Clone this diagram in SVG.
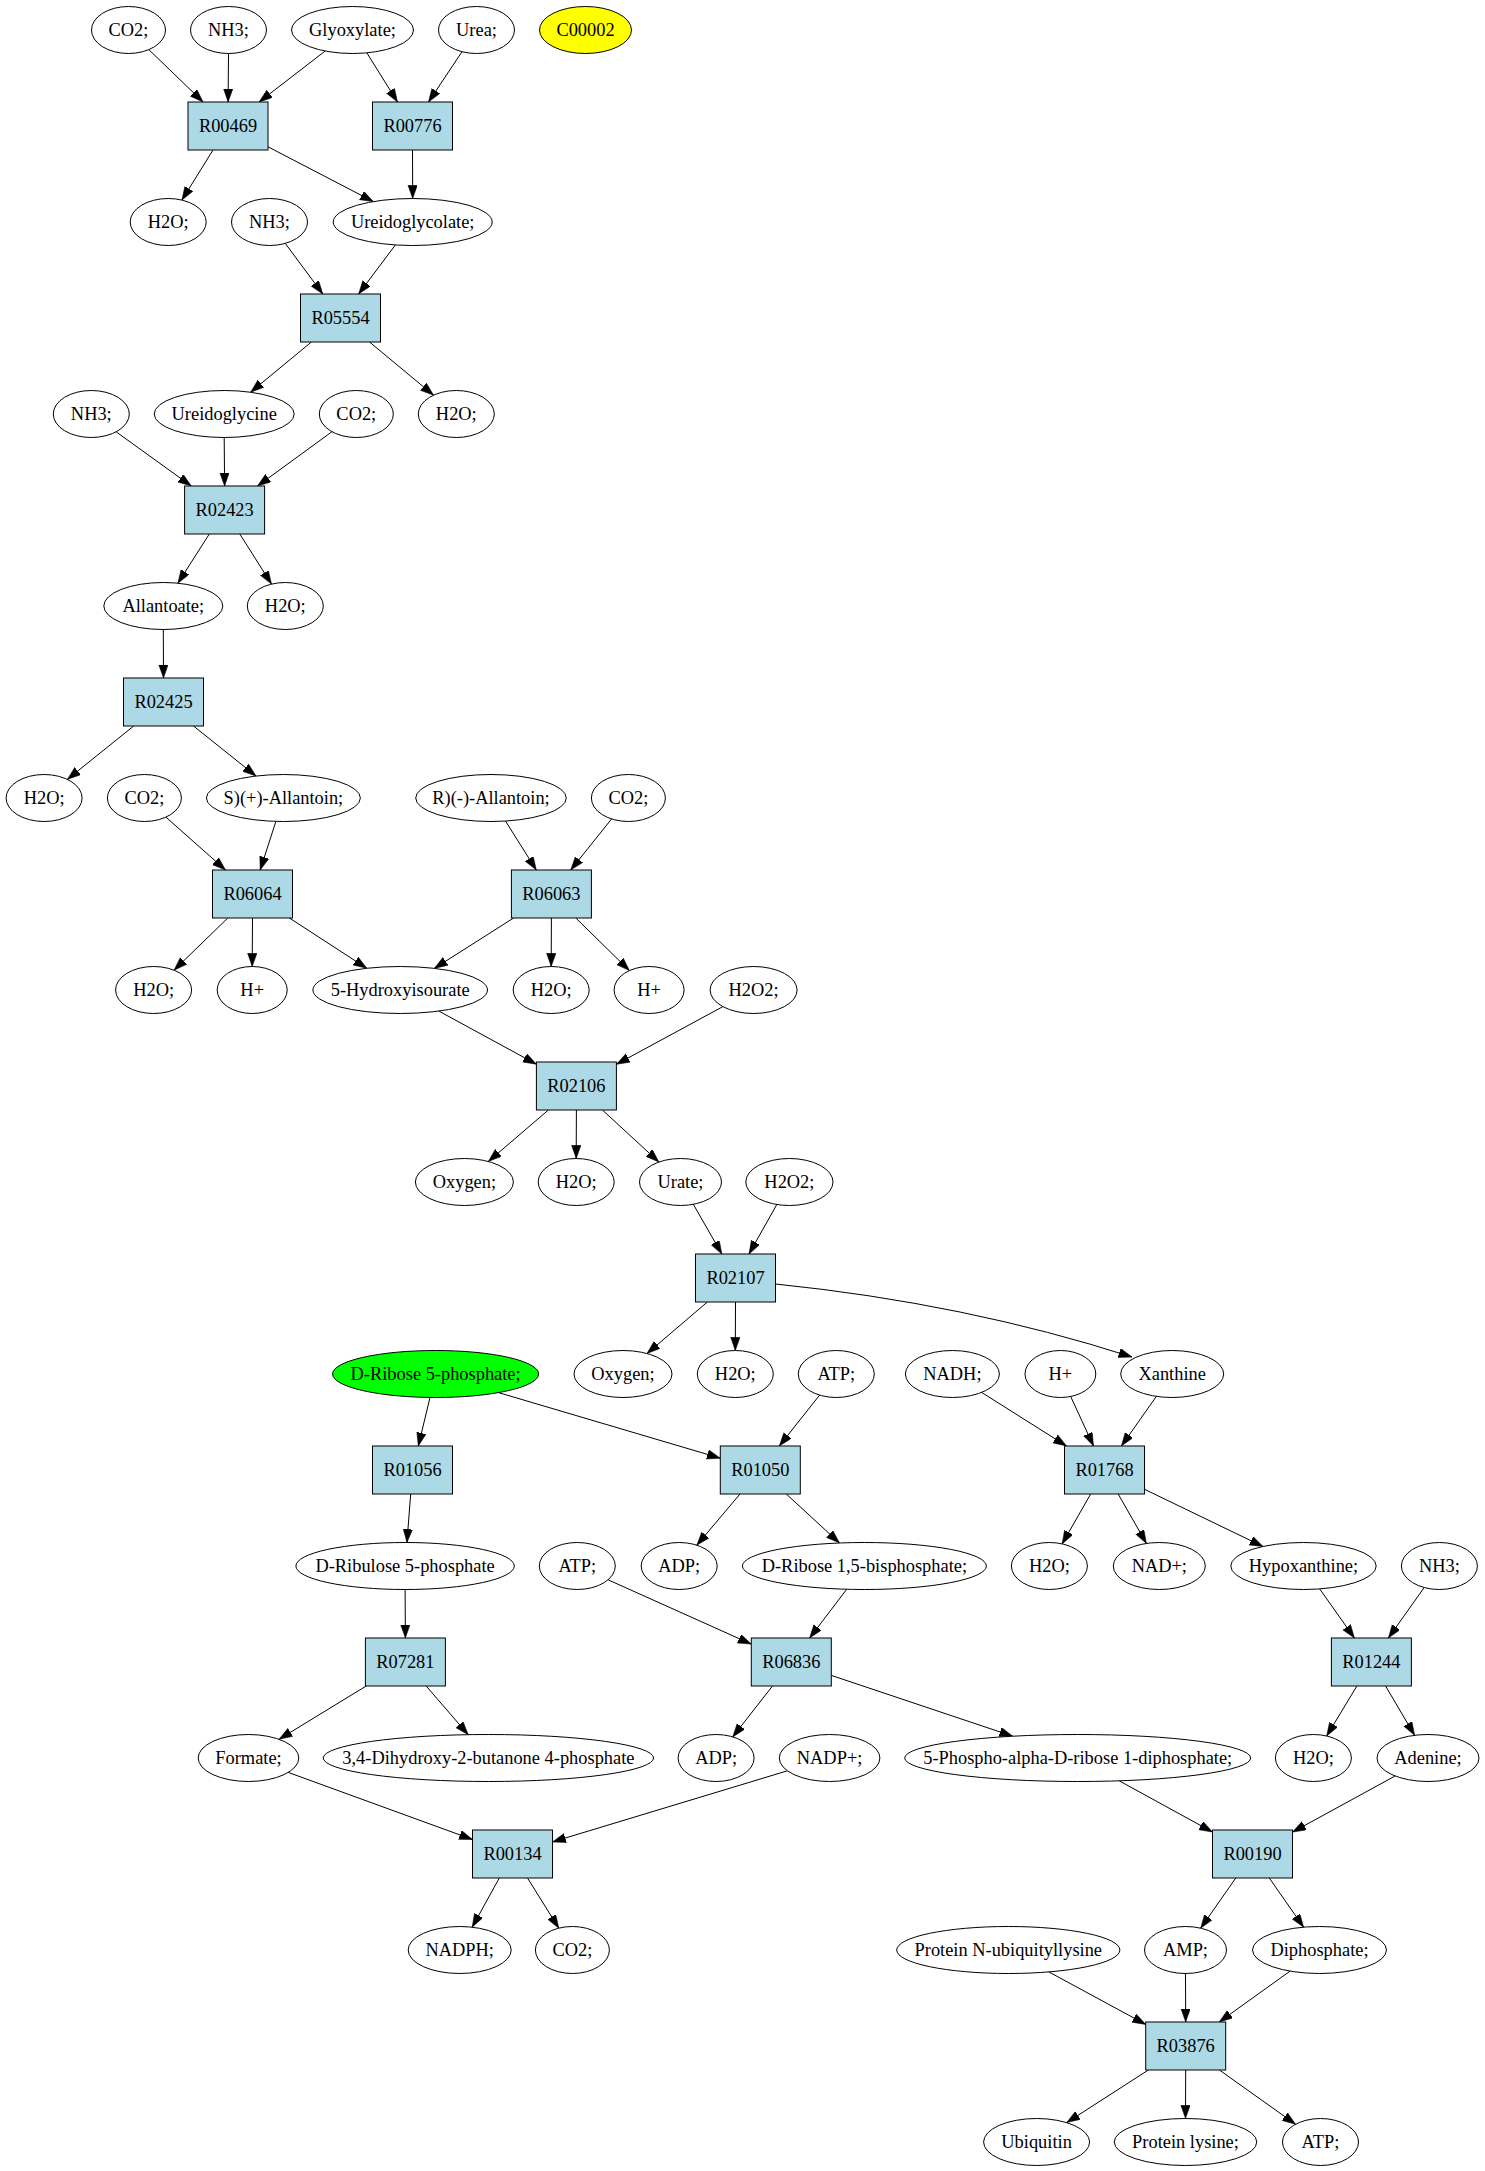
<svg xmlns="http://www.w3.org/2000/svg" width="1485" height="2171" viewBox="0 0 1485 2171">
<style>
.n ellipse{fill:#fff;stroke:#000;stroke-width:1}
.r rect{fill:#add8e6;stroke:#000;stroke-width:1}
text{font-family:"Liberation Serif","Times New Roman",serif;font-size:18.4px;text-anchor:middle;fill:#000}
#edges line,#edges path{stroke:#000;stroke-width:1;fill:none;marker-end:url(#a)}
</style>
<defs>
<marker id="a" markerUnits="userSpaceOnUse" markerWidth="14" markerHeight="10" refX="13.3" refY="4.7" orient="auto">
<path d="M0,0 L13.3,4.7 L0,9.4 z" fill="#000" stroke="#000" stroke-width="0.5"/>
</marker>
</defs>
<rect x="0" y="0" width="1485" height="2171" fill="#fff"/>
<g id="edges">
<line x1="148.8" y1="49.6" x2="203.1" y2="102"/>
<line x1="228.5" y1="53.5" x2="228.1" y2="102"/>
<line x1="325.2" y1="51" x2="259.1" y2="102"/>
<line x1="366.8" y1="52.8" x2="397.5" y2="102"/>
<line x1="462" y1="51.7" x2="428.5" y2="102"/>
<line x1="213" y1="150" x2="181.9" y2="200.1"/>
<line x1="268" y1="146.8" x2="373.4" y2="201.6"/>
<line x1="412.5" y1="150" x2="412.7" y2="198.5"/>
<line x1="285.3" y1="243.4" x2="322.8" y2="294"/>
<line x1="395.4" y1="244.9" x2="358.6" y2="294"/>
<line x1="311.4" y1="342" x2="250.6" y2="392.2"/>
<line x1="369.5" y1="342" x2="433.6" y2="395.2"/>
<line x1="116.1" y1="431.8" x2="191.3" y2="486"/>
<line x1="224.2" y1="437.5" x2="224.6" y2="486"/>
<line x1="332" y1="431.7" x2="257.5" y2="486"/>
<line x1="209.3" y1="534" x2="177.9" y2="583.2"/>
<line x1="239.8" y1="534" x2="271.5" y2="584.1"/>
<line x1="163.3" y1="629.5" x2="163.5" y2="678"/>
<line x1="133.7" y1="726" x2="67.3" y2="779.4"/>
<line x1="193.5" y1="726" x2="256" y2="776"/>
<line x1="165.9" y1="817.1" x2="225.5" y2="870"/>
<line x1="275.9" y1="821.4" x2="260.2" y2="870"/>
<line x1="505.5" y1="821.1" x2="536.3" y2="870"/>
<line x1="611.6" y1="818.9" x2="570.7" y2="870"/>
<line x1="227.8" y1="918" x2="174" y2="970.2"/>
<line x1="252.5" y1="918" x2="252.2" y2="966.5"/>
<line x1="289.4" y1="918" x2="366.8" y2="968.3"/>
<line x1="513.6" y1="918" x2="434.3" y2="968.4"/>
<line x1="551.4" y1="918" x2="551.2" y2="966.5"/>
<line x1="575.8" y1="918" x2="629.4" y2="970.6"/>
<line x1="438.9" y1="1011.1" x2="536.4" y2="1064.2"/>
<line x1="722.9" y1="1006.6" x2="616.4" y2="1064.3"/>
<line x1="548.4" y1="1110" x2="488.3" y2="1161.5"/>
<line x1="576.4" y1="1110" x2="576.2" y2="1158.5"/>
<line x1="602.4" y1="1110" x2="658.9" y2="1162"/>
<line x1="693.3" y1="1204.3" x2="721.8" y2="1254"/>
<line x1="776.8" y1="1204.5" x2="749" y2="1254"/>
<line x1="707.4" y1="1302" x2="647" y2="1353.5"/>
<line x1="735.5" y1="1302" x2="735.3" y2="1350.5"/>
<path d="M775.6,1284 Q966,1303.5 1132,1357"/>
<line x1="430" y1="1397.5" x2="418.3" y2="1446"/>
<line x1="498.5" y1="1392.6" x2="720.3" y2="1458.2"/>
<line x1="819.6" y1="1395.1" x2="779.3" y2="1446"/>
<line x1="981.6" y1="1392.4" x2="1066.5" y2="1446"/>
<line x1="1070.7" y1="1396.5" x2="1093.5" y2="1446"/>
<line x1="1156.4" y1="1396.4" x2="1121.4" y2="1446"/>
<line x1="410.7" y1="1494" x2="406.9" y2="1542.5"/>
<line x1="740" y1="1494" x2="696.8" y2="1545.2"/>
<line x1="786.3" y1="1494" x2="839.5" y2="1543"/>
<line x1="1090.7" y1="1494" x2="1062.1" y2="1543.9"/>
<line x1="1118.2" y1="1494" x2="1146.4" y2="1543.4"/>
<line x1="1144.5" y1="1489.3" x2="1263" y2="1546.5"/>
<line x1="405.1" y1="1589.5" x2="405.4" y2="1638"/>
<line x1="608.1" y1="1579.8" x2="751.3" y2="1644.1"/>
<line x1="846.7" y1="1589.3" x2="809.6" y2="1638"/>
<line x1="1319.7" y1="1588.9" x2="1354.4" y2="1638"/>
<line x1="1424.2" y1="1587.5" x2="1388.4" y2="1638"/>
<line x1="366.2" y1="1686" x2="279" y2="1739.3"/>
<line x1="426.2" y1="1686" x2="468.2" y2="1734.7"/>
<line x1="772.5" y1="1686" x2="732.7" y2="1736.9"/>
<line x1="831.3" y1="1675.4" x2="1012.7" y2="1736.2"/>
<line x1="1356.9" y1="1686" x2="1326.7" y2="1736"/>
<line x1="1385.6" y1="1686" x2="1414.6" y2="1735.3"/>
<line x1="288.2" y1="1772.4" x2="472.5" y2="1839.5"/>
<line x1="787.4" y1="1770.8" x2="552.5" y2="1841.9"/>
<line x1="1119.2" y1="1780.8" x2="1212.5" y2="1832"/>
<line x1="1395.1" y1="1776" x2="1292.5" y2="1832.1"/>
<line x1="499.3" y1="1878" x2="472.2" y2="1927.2"/>
<line x1="527.5" y1="1878" x2="558.8" y2="1928.2"/>
<line x1="1235.8" y1="1878" x2="1200.7" y2="1928.2"/>
<line x1="1269.3" y1="1878" x2="1303.6" y2="1927.2"/>
<line x1="1048.8" y1="1971.9" x2="1145.7" y2="2024.4"/>
<line x1="1185.5" y1="1973.5" x2="1185.7" y2="2022"/>
<line x1="1290.1" y1="1971.1" x2="1219.2" y2="2022"/>
<line x1="1148.4" y1="2070" x2="1066.7" y2="2122.6"/>
<line x1="1185.7" y1="2070" x2="1185.5" y2="2118.5"/>
<line x1="1219.4" y1="2070" x2="1295.6" y2="2124.3"/>
</g>
<g id="co2_1" class="n"><ellipse cx="128.5" cy="30" rx="37" ry="23.5"/><text x="128.5" y="36">CO2;</text></g>
<g id="nh3_1" class="n"><ellipse cx="228.5" cy="30" rx="38" ry="23.5"/><text x="228.5" y="36">NH3;</text></g>
<g id="glyoxylate" class="n"><ellipse cx="352.5" cy="30" rx="61" ry="23.5"/><text x="352.5" y="36">Glyoxylate;</text></g>
<g id="urea" class="n"><ellipse cx="476.5" cy="30" rx="38" ry="23.5"/><text x="476.5" y="36">Urea;</text></g>
<g id="C00002" class="n"><ellipse cx="585.5" cy="30" rx="46" ry="23.5" style="fill:#ffff00"/><text x="585.5" y="36">C00002</text></g>
<g id="R00469" class="r"><rect x="188" y="102" width="80" height="48"/><text x="228" y="132">R00469</text></g>
<g id="R00776" class="r"><rect x="372.5" y="102" width="80" height="48"/><text x="412.5" y="132">R00776</text></g>
<g id="h2o_1" class="n"><ellipse cx="168.2" cy="222" rx="38" ry="23.5"/><text x="168.2" y="228">H2O;</text></g>
<g id="nh3_2" class="n"><ellipse cx="269.5" cy="222" rx="38" ry="23.5"/><text x="269.5" y="228">NH3;</text></g>
<g id="ureidoglycolate" class="n"><ellipse cx="412.7" cy="222" rx="79.5" ry="23.5"/><text x="412.7" y="228">Ureidoglycolate;</text></g>
<g id="R05554" class="r"><rect x="300.5" y="294" width="80" height="48"/><text x="340.5" y="324">R05554</text></g>
<g id="nh3_3" class="n"><ellipse cx="91.3" cy="414" rx="38" ry="23.5"/><text x="91.3" y="420">NH3;</text></g>
<g id="ureidoglycine" class="n"><ellipse cx="224.2" cy="414" rx="70" ry="23.5"/><text x="224.2" y="420">Ureidoglycine</text></g>
<g id="co2_2" class="n"><ellipse cx="356.3" cy="414" rx="37" ry="23.5"/><text x="356.3" y="420">CO2;</text></g>
<g id="h2o_2" class="n"><ellipse cx="456.3" cy="414" rx="38" ry="23.5"/><text x="456.3" y="420">H2O;</text></g>
<g id="R02423" class="r"><rect x="184.6" y="486" width="80" height="48"/><text x="224.6" y="516">R02423</text></g>
<g id="allantoate" class="n"><ellipse cx="163.3" cy="606" rx="59.5" ry="23.5"/><text x="163.3" y="612">Allantoate;</text></g>
<g id="h2o_3" class="n"><ellipse cx="285.3" cy="606" rx="38" ry="23.5"/><text x="285.3" y="612">H2O;</text></g>
<g id="R02425" class="r"><rect x="123.5" y="678" width="80" height="48"/><text x="163.5" y="708">R02425</text></g>
<g id="h2o_4" class="n"><ellipse cx="44.1" cy="798" rx="38" ry="23.5"/><text x="44.1" y="804">H2O;</text></g>
<g id="co2_3" class="n"><ellipse cx="144.4" cy="798" rx="37" ry="23.5"/><text x="144.4" y="804">CO2;</text></g>
<g id="s_allantoin" class="n"><ellipse cx="283.4" cy="798" rx="77" ry="23.5"/><text x="283.4" y="804">S)(+)-Allantoin;</text></g>
<g id="r_allantoin" class="n"><ellipse cx="491" cy="798" rx="75.3" ry="23.5"/><text x="491" y="804">R)(-)-Allantoin;</text></g>
<g id="co2_4" class="n"><ellipse cx="628.4" cy="798" rx="37" ry="23.5"/><text x="628.4" y="804">CO2;</text></g>
<g id="R06064" class="r"><rect x="212.5" y="870" width="80" height="48"/><text x="252.5" y="900">R06064</text></g>
<g id="R06063" class="r"><rect x="511.4" y="870" width="80" height="48"/><text x="551.4" y="900">R06063</text></g>
<g id="h2o_5" class="n"><ellipse cx="153.6" cy="990" rx="38" ry="23.5"/><text x="153.6" y="996">H2O;</text></g>
<g id="hplus_1" class="n"><ellipse cx="252.2" cy="990" rx="35" ry="23.5"/><text x="252.2" y="996">H+</text></g>
<g id="hydroxyisourate" class="n"><ellipse cx="400.2" cy="990" rx="87.3" ry="23.5"/><text x="400.2" y="996">5-Hydroxyisourate</text></g>
<g id="h2o_6" class="n"><ellipse cx="551.2" cy="990" rx="38" ry="23.5"/><text x="551.2" y="996">H2O;</text></g>
<g id="hplus_2" class="n"><ellipse cx="649.1" cy="990" rx="35" ry="23.5"/><text x="649.1" y="996">H+</text></g>
<g id="h2o2_1" class="n"><ellipse cx="753.6" cy="990" rx="43.5" ry="23.5"/><text x="753.6" y="996">H2O2;</text></g>
<g id="R02106" class="r"><rect x="536.4" y="1062" width="80" height="48"/><text x="576.4" y="1092">R02106</text></g>
<g id="oxygen_1" class="n"><ellipse cx="464.4" cy="1182" rx="49" ry="23.5"/><text x="464.4" y="1188">Oxygen;</text></g>
<g id="h2o_7" class="n"><ellipse cx="576.2" cy="1182" rx="38" ry="23.5"/><text x="576.2" y="1188">H2O;</text></g>
<g id="urate" class="n"><ellipse cx="680.5" cy="1182" rx="41" ry="23.5"/><text x="680.5" y="1188">Urate;</text></g>
<g id="h2o2_2" class="n"><ellipse cx="789.4" cy="1182" rx="43.6" ry="23.5"/><text x="789.4" y="1188">H2O2;</text></g>
<g id="R02107" class="r"><rect x="695.5" y="1254" width="80" height="48"/><text x="735.5" y="1284">R02107</text></g>
<g id="ribose5p" class="n"><ellipse cx="435.6" cy="1374" rx="103" ry="23.5" style="fill:#00ff00"/><text x="435.6" y="1380">D-Ribose 5-phosphate;</text></g>
<g id="oxygen_2" class="n"><ellipse cx="623" cy="1374" rx="49" ry="23.5"/><text x="623" y="1380">Oxygen;</text></g>
<g id="h2o_8" class="n"><ellipse cx="735.3" cy="1374" rx="38" ry="23.5"/><text x="735.3" y="1380">H2O;</text></g>
<g id="atp_1" class="n"><ellipse cx="836.3" cy="1374" rx="38" ry="23.5"/><text x="836.3" y="1380">ATP;</text></g>
<g id="nadh" class="n"><ellipse cx="952.4" cy="1374" rx="47" ry="23.5"/><text x="952.4" y="1380">NADH;</text></g>
<g id="hplus_3" class="n"><ellipse cx="1060.4" cy="1374" rx="35.4" ry="23.5"/><text x="1060.4" y="1380">H+</text></g>
<g id="xanthine" class="n"><ellipse cx="1172.2" cy="1374" rx="51.5" ry="23.5"/><text x="1172.2" y="1380">Xanthine</text></g>
<g id="R01056" class="r"><rect x="372.5" y="1446" width="80" height="48"/><text x="412.5" y="1476">R01056</text></g>
<g id="R01050" class="r"><rect x="720.3" y="1446" width="80" height="48"/><text x="760.3" y="1476">R01050</text></g>
<g id="R01768" class="r"><rect x="1064.5" y="1446" width="80" height="48"/><text x="1104.5" y="1476">R01768</text></g>
<g id="ribulose5p" class="n"><ellipse cx="405.1" cy="1566" rx="109.2" ry="23.5"/><text x="405.1" y="1572">D-Ribulose 5-phosphate</text></g>
<g id="atp_2" class="n"><ellipse cx="577.3" cy="1566" rx="38" ry="23.5"/><text x="577.3" y="1572">ATP;</text></g>
<g id="adp_1" class="n"><ellipse cx="679.2" cy="1566" rx="38" ry="23.5"/><text x="679.2" y="1572">ADP;</text></g>
<g id="ribose15bp" class="n"><ellipse cx="864.4" cy="1566" rx="122" ry="23.5"/><text x="864.4" y="1572">D-Ribose 1,5-bisphosphate;</text></g>
<g id="h2o_9" class="n"><ellipse cx="1049.4" cy="1566" rx="38" ry="23.5"/><text x="1049.4" y="1572">H2O;</text></g>
<g id="nadplus" class="n"><ellipse cx="1159.3" cy="1566" rx="46" ry="23.5"/><text x="1159.3" y="1572">NAD+;</text></g>
<g id="hypoxanthine" class="n"><ellipse cx="1303.5" cy="1566" rx="72.7" ry="23.5"/><text x="1303.5" y="1572">Hypoxanthine;</text></g>
<g id="nh3_4" class="n"><ellipse cx="1439.4" cy="1566" rx="38" ry="23.5"/><text x="1439.4" y="1572">NH3;</text></g>
<g id="R07281" class="r"><rect x="365.4" y="1638" width="80" height="48"/><text x="405.4" y="1668">R07281</text></g>
<g id="R06836" class="r"><rect x="751.3" y="1638" width="80" height="48"/><text x="791.3" y="1668">R06836</text></g>
<g id="R01244" class="r"><rect x="1331.4" y="1638" width="80" height="48"/><text x="1371.4" y="1668">R01244</text></g>
<g id="formate" class="n"><ellipse cx="248.5" cy="1758" rx="50.3" ry="23.5"/><text x="248.5" y="1764">Formate;</text></g>
<g id="dihydroxybutanone" class="n"><ellipse cx="488.4" cy="1758" rx="165.2" ry="23.5"/><text x="488.4" y="1764">3,4-Dihydroxy-2-butanone 4-phosphate</text></g>
<g id="adp_2" class="n"><ellipse cx="716.1" cy="1758" rx="38" ry="23.5"/><text x="716.1" y="1764">ADP;</text></g>
<g id="nadpplus" class="n"><ellipse cx="829.6" cy="1758" rx="50.3" ry="23.5"/><text x="829.6" y="1764">NADP+;</text></g>
<g id="prpp" class="n"><ellipse cx="1077.7" cy="1758" rx="173" ry="23.5"/><text x="1077.7" y="1764">5-Phospho-alpha-D-ribose 1-diphosphate;</text></g>
<g id="h2o_10" class="n"><ellipse cx="1313.4" cy="1758" rx="38" ry="23.5"/><text x="1313.4" y="1764">H2O;</text></g>
<g id="adenine" class="n"><ellipse cx="1428" cy="1758" rx="51" ry="23.5"/><text x="1428" y="1764">Adenine;</text></g>
<g id="R00134" class="r"><rect x="472.5" y="1830" width="80" height="48"/><text x="512.5" y="1860">R00134</text></g>
<g id="R00190" class="r"><rect x="1212.5" y="1830" width="80" height="48"/><text x="1252.5" y="1860">R00190</text></g>
<g id="nadph" class="n"><ellipse cx="459.7" cy="1950" rx="51.5" ry="23.5"/><text x="459.7" y="1956">NADPH;</text></g>
<g id="co2_5" class="n"><ellipse cx="572.4" cy="1950" rx="37" ry="23.5"/><text x="572.4" y="1956">CO2;</text></g>
<g id="prot_n_ubiq" class="n"><ellipse cx="1008.3" cy="1950" rx="111.6" ry="23.5"/><text x="1008.3" y="1956">Protein N-ubiquityllysine</text></g>
<g id="amp" class="n"><ellipse cx="1185.5" cy="1950" rx="41" ry="23.5"/><text x="1185.5" y="1956">AMP;</text></g>
<g id="diphosphate" class="n"><ellipse cx="1319.5" cy="1950" rx="67" ry="23.5"/><text x="1319.5" y="1956">Diphosphate;</text></g>
<g id="R03876" class="r"><rect x="1145.7" y="2022" width="80" height="48"/><text x="1185.7" y="2052">R03876</text></g>
<g id="ubiquitin" class="n"><ellipse cx="1036.6" cy="2142" rx="53" ry="23.5"/><text x="1036.6" y="2148">Ubiquitin</text></g>
<g id="protein_lysine" class="n"><ellipse cx="1185.5" cy="2142" rx="71.3" ry="23.5"/><text x="1185.5" y="2148">Protein lysine;</text></g>
<g id="atp_3" class="n"><ellipse cx="1320.5" cy="2142" rx="38" ry="23.5"/><text x="1320.5" y="2148">ATP;</text></g>
</svg>
